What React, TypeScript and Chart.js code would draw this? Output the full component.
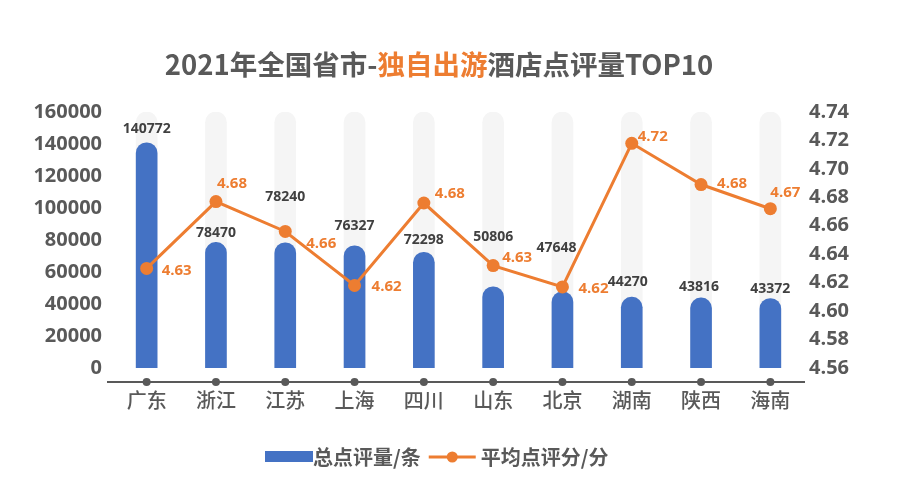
import React, { useEffect, useRef } from "react";
import { Chart, registerables } from "chart.js";

Chart.register(...registerables);

const titleParts = [
  { text: "2021年全国省市-", highlight: false },
  { text: "独自出游", highlight: true },
  { text: "酒店点评量TOP10", highlight: false },
];
const categories = ["广东", "浙江", "江苏", "上海", "四川", "山东", "北京", "湖南", "陕西", "海南"];
const reviewCounts = [140772, 78470, 78240, 76327, 72298, 50806, 47648, 44270, 43816, 43372];
const avgScores = [4.63, 4.677, 4.656, 4.618, 4.676, 4.632, 4.617, 4.718, 4.689, 4.672];
const avgScoreLabels = ["4.63", "4.68", "4.66", "4.62", "4.68", "4.63", "4.62", "4.72", "4.68", "4.67"];
const trackValues = [160000, 160000, 160000, 160000, 160000, 160000, 160000, 160000, 160000, 160000];
const seriesNames = ["总点评量/条", "平均点评分/分"];
const leftAxis = { min: 0, max: 160000, step: 20000 };
const rightAxis = { min: 4.56, max: 4.74, step: 0.02 };

const BLUE = "#4472C4";
const ORANGE = "#ED7D31";
const GRAY_TEXT = "#595959";
const NUM_FONT = '"Open Sans", "Noto Sans CJK SC", sans-serif';
const CJK_FONT = '"Noto Sans CJK SC", "Open Sans", sans-serif';

// label placement tweaks (style, not data)
const barLabelDy = [-14, -9, -46, -20, -12, -50, -44, -15, -11, -10];
const barLabelDx = [0, 0, 0, 0, 0, 0, -6, -4, -2, 0];
const lineLabelDx = [15, 1, 21, 17, 11, 9, 16, 6, 16, 0];
const lineLabelDy = [2, -18, 12, 1, -9, -8, 2, -7, -1, -16];

const decorPlugin = {
  id: "decor",
  beforeDatasetsDraw(chart: any) {
    const { ctx, chartArea } = chart;
    const xs = chart.scales.x;
    ctx.save();
    const y = chartArea.bottom + 14;
    ctx.strokeStyle = GRAY_TEXT;
    ctx.lineWidth = 2;
    ctx.beginPath();
    ctx.moveTo(107, y);
    ctx.lineTo(chartArea.right, y);
    ctx.stroke();
    ctx.fillStyle = GRAY_TEXT;
    categories.forEach((_, i) => {
      const x = xs.getPixelForValue(i);
      ctx.beginPath();
      ctx.arc(x, y, 4, 0, Math.PI * 2);
      ctx.fill();
    });
    ctx.restore();
  },
  afterDatasetsDraw(chart: any) {
    const { ctx } = chart;
    ctx.save();
    const barMeta = chart.getDatasetMeta(1);
    ctx.font = `bold 14px ${NUM_FONT}`;
    ctx.fillStyle = "#404040";
    ctx.textAlign = "center";
    ctx.textBaseline = "middle";
    barMeta.data.forEach((el: any, i: number) => {
      ctx.fillText(String(reviewCounts[i]), el.x + barLabelDx[i], el.y + barLabelDy[i]);
    });
    const lineMeta = chart.getDatasetMeta(0);
    ctx.font = `bold 15px ${NUM_FONT}`;
    ctx.fillStyle = ORANGE;
    ctx.textAlign = "left";
    lineMeta.data.forEach((el: any, i: number) => {
      ctx.fillText(avgScoreLabels[i], el.x + lineLabelDx[i], el.y + lineLabelDy[i]);
    });

    // title
    ctx.font = `bold 27.5px ${CJK_FONT}`;
    ctx.textBaseline = "middle";
    ctx.textAlign = "left";
    const widths = titleParts.map((p) => ctx.measureText(p.text).width);
    const total = widths.reduce((a, b) => a + b, 0);
    let tx = 439 - total / 2;
    titleParts.forEach((p, i) => {
      ctx.fillStyle = p.highlight ? ORANGE : GRAY_TEXT;
      ctx.fillText(p.text, tx, 65);
      tx += widths[i];
    });

    // legend
    ctx.font = `bold 20px ${CJK_FONT}`;
    const ly = 457;
    const w0 = ctx.measureText(seriesNames[0]).width;
    let lx = 265;
    ctx.fillStyle = BLUE;
    ctx.fillRect(lx, ly - 6, 48, 11);
    lx += 48;
    ctx.fillStyle = GRAY_TEXT;
    ctx.fillText(seriesNames[0], lx, ly);
    lx += w0 + 8;
    ctx.strokeStyle = ORANGE;
    ctx.lineWidth = 3;
    ctx.beginPath();
    ctx.moveTo(lx, ly);
    ctx.lineTo(lx + 47, ly);
    ctx.stroke();
    ctx.fillStyle = ORANGE;
    ctx.beginPath();
    ctx.arc(lx + 23.5, ly, 5.5, 0, Math.PI * 2);
    ctx.fill();
    lx += 47 + 5;
    ctx.fillStyle = GRAY_TEXT;
    ctx.fillText(seriesNames[1], lx, ly);
    ctx.restore();
  },
};

export default function App() {
  const ref = useRef<HTMLCanvasElement | null>(null);
  useEffect(() => {
    document.body.style.margin = "0";
    const canvas = ref.current;
    if (!canvas) return;
    const chart = new Chart(canvas, {
      type: "bar",
      data: {
        labels: categories,
        datasets: [
          {
            type: "line",
            label: seriesNames[1],
            data: avgScores,
            yAxisID: "y1",
            borderColor: ORANGE,
            backgroundColor: ORANGE,
            borderWidth: 3,
            pointRadius: 6.5,
            pointBackgroundColor: ORANGE,
            pointBorderWidth: 0,
            tension: 0,
            order: 0,
          } as any,
          {
            type: "bar",
            label: seriesNames[0],
            data: reviewCounts,
            yAxisID: "y",
            backgroundColor: BLUE,
            barThickness: 21,
            grouped: false,
            borderRadius: { topLeft: 10.5, topRight: 10.5, bottomLeft: 0, bottomRight: 0 },
            borderSkipped: false,
            order: 1,
          } as any,
          {
            type: "bar",
            label: "track",
            data: trackValues,
            yAxisID: "y",
            backgroundColor: "#F5F5F5",
            barThickness: 21,
            grouped: false,
            borderRadius: { topLeft: 10.5, topRight: 10.5, bottomLeft: 0, bottomRight: 0 },
            borderSkipped: false,
            order: 2,
          } as any,
        ],
      },
      options: {
        animation: false,
        responsive: false,
        maintainAspectRatio: false,
        layout: { padding: { top: 112, left: 0, right: 0, bottom: 0 } },
        plugins: {
          legend: { display: false },
          title: { display: false },
          tooltip: { enabled: false },
        },
        scales: {
          x: {
            grid: { display: false, drawTicks: false },
            border: { display: false },
            ticks: {
              color: GRAY_TEXT,
              font: { family: CJK_FONT, size: 20, weight: "500" as any },
              padding: 20,
            },
            afterFit: (s: any) => {
              s.height = 127;
            },
          },
          y: {
            position: "left",
            min: leftAxis.min,
            max: leftAxis.max,
            grid: { display: false, drawTicks: false },
            border: { display: false },
            ticks: {
              stepSize: leftAxis.step,
              color: GRAY_TEXT,
              padding: 10,
              font: { family: NUM_FONT, size: 20, weight: "bold" as any },
              callback: (v: any) => String(v),
            },
            afterFit: (s: any) => {
              s.width = 112;
            },
          },
          y1: {
            position: "right",
            min: rightAxis.min,
            max: rightAxis.max,
            grid: { display: false, drawTicks: false },
            border: { display: false },
            ticks: {
              stepSize: rightAxis.step,
              color: GRAY_TEXT,
              padding: 4,
              font: { family: NUM_FONT, size: 20, weight: "bold" as any },
              callback: (v: any) => Number(v).toFixed(2),
            },
            afterFit: (s: any) => {
              s.width = 95;
            },
          },
        },
      },
      plugins: [decorPlugin],
    });
    return () => chart.destroy();
  }, []);
  return (
    <div style={{ width: 900, height: 495, background: "#ffffff" }}>
      <canvas ref={ref} width={900} height={495} style={{ width: 900, height: 495, display: "block" }} />
    </div>
  );
}
